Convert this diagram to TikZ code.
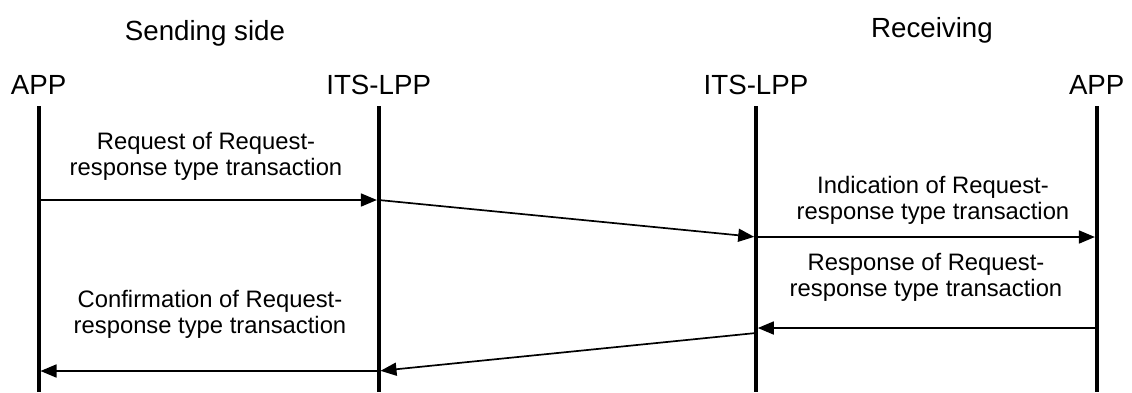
\documentclass[tikz,border=0pt]{standalone}
\usepackage{fontspec}
\setmainfont{Liberation Sans}
\usetikzlibrary{arrows.meta}
\begin{document}
\begin{tikzpicture}[x=1pt,y=-1pt,
  head/.style={anchor=base,inner sep=0pt,font=\fontsize{27.7}{30}\selectfont},
  msg/.style={anchor=base,inner sep=0pt,align=center,font=\fontsize{23.8}{26}\selectfont},
  life/.style={line width=4pt},
  arr/.style={line width=1.7pt,-{Triangle[length=16pt,width=13pt]},shorten >=1.8pt}]
\useasboundingbox (0,0) rectangle (1132,392);
% titles
\node[head] (ss) at (205,40) {Sending side};
\node[head] (rs) at (932,37) {Receiving};
% lifeline heads
\node[head] (app1) at (38.7,94) {APP};
\node[head] (lpp1) at (378.7,94) {ITS-LPP};
\node[head] (lpp2) at (756,94) {ITS-LPP};
\node[head] (app2) at (1096.7,94) {APP};
% lifelines
\coordinate (t1) at (38.7,106); \coordinate (b1) at (38.7,392);
\coordinate (t2) at (378.7,106); \coordinate (b2) at (378.7,392);
\coordinate (t3) at (756,106); \coordinate (b3) at (756,392);
\coordinate (t4) at (1096.7,106); \coordinate (b4) at (1096.7,392);
\draw[life] (t1) -- (b1);
\draw[life] (t2) -- (b2);
\draw[life] (t3) -- (b3);
\draw[life] (t4) -- (b4);
% message points
\coordinate (p1) at (38.7,200);
\coordinate (p2) at (378.7,200);
\coordinate (p3) at (756,237);
\coordinate (p4) at (1096.7,237);
\coordinate (q4) at (1096.7,328);
\coordinate (q3) at (756,328);
\coordinate (q3b) at (756,333);
\coordinate (q2) at (378.7,371);
\coordinate (q1) at (38.7,371);
\draw[arr] (p1) -- (p2);
\draw[arr] (p2) -- (p3);
\draw[arr] (p3) -- (p4);
\draw[arr] (q4) -- (q3);
\draw[arr] (q3b) -- (q2);
\draw[arr] (q2) -- (q1);
% labels
\node[msg] (m1) at (206,175) {Request of Request-\\response type transaction};
\node[msg] (m2) at (933,219) {Indication of Request-\\response type transaction};
\node[msg] (m3) at (926,296) {Response of Request-\\response type transaction};
\node[msg] (m4) at (210,333) {Confirmation of Request-\\response type transaction};
\end{tikzpicture}
\end{document}
